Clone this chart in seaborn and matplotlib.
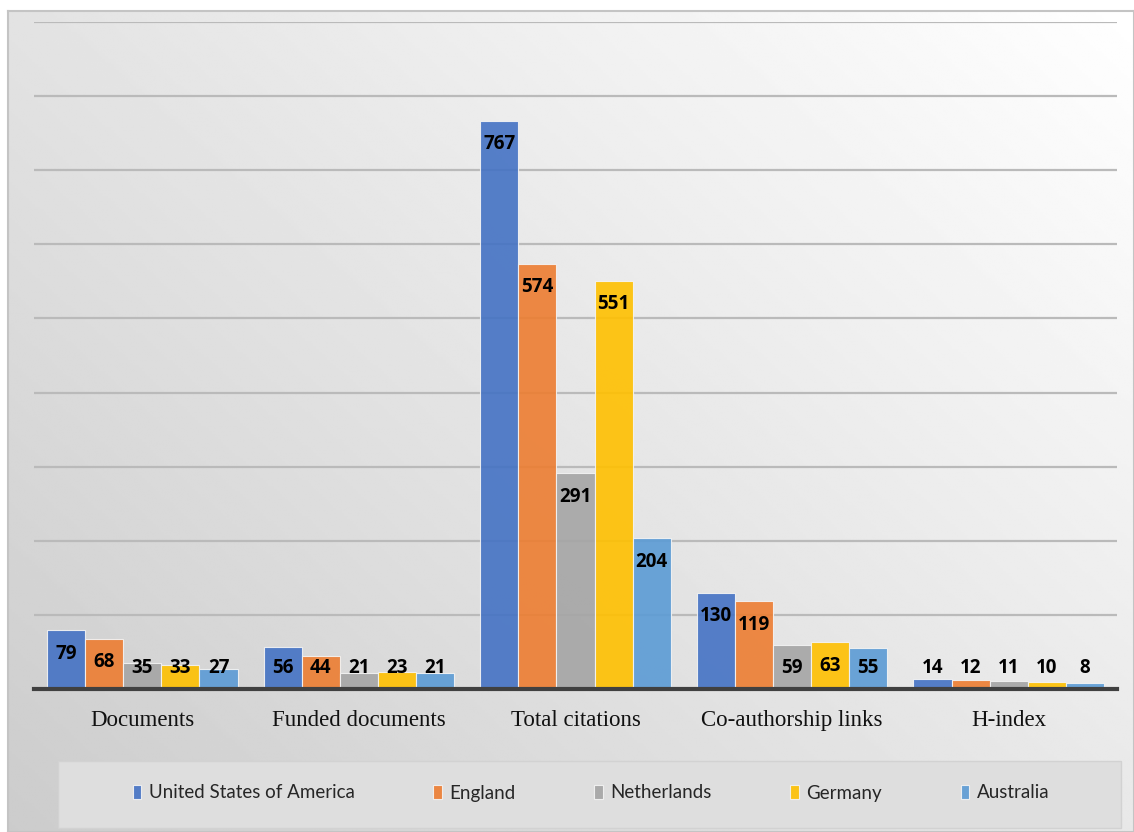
import numpy as np
import pandas as pd
import matplotlib
matplotlib.use('Agg')
import matplotlib.pyplot as plt
import seaborn as sns
from matplotlib.patches import Rectangle

# ------------------------------------------------------------
# Data
# ------------------------------------------------------------
metrics = ['Documents', 'Funded documents', 'Total citations',
           'Co-authorship links', 'H-index']
countries = ['United States of America', 'England', 'Netherlands',
             'Germany', 'Australia']
usa = [79, 56, 767, 130, 14]
england = [68, 44, 574, 119, 12]
netherlands = [35, 21, 291, 59, 11]
germany = [33, 23, 551, 63, 10]
australia = [27, 21, 204, 55, 8]

colors = ['#4472C4', '#ED7D31', '#A5A5A5', '#FFC000', '#5B9BD5']

series = [usa, england, netherlands, germany, australia]
df = pd.DataFrame({
    'metric': np.tile(metrics, len(countries)),
    'country': np.repeat(countries, len(metrics)),
    'value': np.concatenate(series),
})

# ------------------------------------------------------------
# Figure + gradient background
# ------------------------------------------------------------
sns.set_theme(style='white')
W, H = 1134, 832
fig = plt.figure(figsize=(W / 100, H / 100), dpi=100)
fig.patch.set_facecolor('white')

bg = fig.add_axes([8 / W, 0, 1 - 8 / W, 1 - 11 / H], zorder=-10)
gx, gy = np.meshgrid(np.linspace(0, 1, 400), np.linspace(1, 0, 300))
shade = 0.80 + 0.20 * (0.55 * gx + 0.45 * gy)
bg.imshow(shade, cmap='gray', vmin=0, vmax=1, aspect='auto',
          extent=[0, 1, 0, 1], interpolation='bilinear')
bg.set_xticks([])
bg.set_yticks([])
for s in bg.spines.values():
    s.set_color('#c4c4c4')
    s.set_linewidth(1.5)

# legend box
fig.patches.append(Rectangle((58 / W, 4 / H), (1121 - 58) / W, (828 - 761) / H,
                             transform=fig.transFigure, facecolor='#dedede',
                             edgecolor='#d2d2d2', linewidth=1, zorder=-5))

# ------------------------------------------------------------
# Bars
# ------------------------------------------------------------
ax = fig.add_axes([34 / W, (H - 689) / H, (1117 - 34) / W, (689 - 22) / H])
ax.set_facecolor('none')

sns.barplot(data=df, x='metric', y='value', hue='country', order=metrics,
            hue_order=countries, palette=colors, saturation=1, width=0.88,
            alpha=0.9, edgecolor='#f4f4f4', linewidth=0.8, ax=ax, zorder=3)

ax.set_ylim(0, 900)
ax.set_yticks(np.arange(100, 901, 100))
ax.set_yticklabels([])
ax.tick_params(axis='y', length=0)
ax.tick_params(axis='x', length=0, pad=15)
ax.yaxis.grid(True, color='#bababa', linewidth=1.6, zorder=0)
ax.set_axisbelow(True)
ax.set_xlabel('')
ax.set_ylabel('')
for s in ['top', 'right', 'left']:
    ax.spines[s].set_visible(False)
ax.spines['bottom'].set_color('#404040')
ax.spines['bottom'].set_linewidth(3)
ax.spines['bottom'].set_zorder(5)

for lab in ax.get_xticklabels():
    lab.set_fontfamily('Liberation Serif')
    lab.set_fontsize(16.5)
    lab.set_color('#111111')

# value labels (inside end, kept above the baseline)
for cont in ax.containers:
    for bar in cont:
        v = bar.get_height()
        xc = bar.get_x() + bar.get_width() / 2
        ax.text(xc, max(v - 32, 29), f'{int(v)}', ha='center', va='center',
                fontsize=13.5, fontweight='bold', family='Open Sans',
                color='black', zorder=6)

# legend
handles, labels = ax.get_legend_handles_labels()
ax.legend_.remove()
fig.legend(handles, labels, loc='center', ncol=5,
           bbox_to_anchor=(591 / W, (H - 793) / H), frameon=False,
           prop={'family': 'Lato', 'size': 13.5}, handlelength=0.45,
           handleheight=0.8, handletextpad=0.4, columnspacing=4.2)

fig.savefig('out.png', dpi=100)
